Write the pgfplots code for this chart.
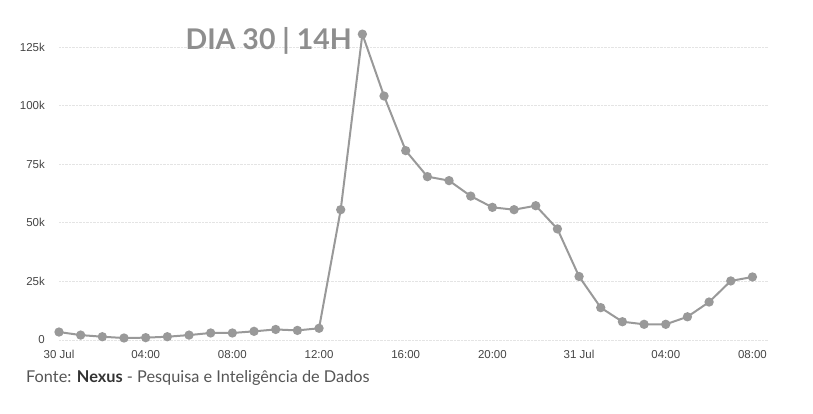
\documentclass[border=0pt]{standalone}
\usepackage{pgfplots}
\pgfplotsset{compat=1.18}
\usepackage{fontspec}
\setmainfont{Lato}
\newfontfamily\tickfont{Liberation Sans}
\definecolor{linegray}{HTML}{999999}
\definecolor{gridgray}{HTML}{E4E4E4}
\definecolor{ticktext}{HTML}{444444}
\definecolor{titlegray}{HTML}{8E8E8E}
\definecolor{footgray}{HTML}{555555}
\begin{document}
\begin{tikzpicture}
\useasboundingbox (0,0) rectangle (813pt,413pt);
\begin{axis}[
    at={(59pt,73pt)}, anchor=south west,
    scale only axis,
    width=708.6pt, height=316.4pt,
    xmin=0, xmax=32.7,
    ymin=0, ymax=135000,
    clip=false,
    axis line style={draw=none},
    tick style={draw=none},
    ymajorgrids,
    major grid style={densely dotted, line width=0.9pt, color=gridgray},
    ytick={0,25000,50000,75000,100000,125000},
    yticklabels={0,25k,50k,75k,100k,125k},
    xtick={0,4,8,12,16,20,24,28,32},
    xticklabels={30 Jul,04:00,08:00,12:00,16:00,20:00,31 Jul,04:00,08:00},
    yticklabel style={anchor=east, inner sep=0pt, xshift=-14pt, font=\tickfont\fontsize{11.5}{13}\selectfont, text=ticktext},
    xticklabel style={anchor=north, inner sep=0pt, yshift=-10pt, font=\tickfont\fontsize{11.5}{13}\selectfont, text=ticktext},
    scaled y ticks=false,
]
\addplot[color=linegray, line width=2pt, mark=*, mark size=3.6pt, mark options={fill=linegray, draw=linegray}]
coordinates {
(0,3400) (1,2100) (2,1400) (3,850) (4,1000) (5,1400) (6,2100) (7,3000)
(8,3000) (9,3700) (10,4500) (11,4100) (12,5000) (13,55600) (14,130500)
(15,104100) (16,80800) (17,69700) (18,68000) (19,61400) (20,56600)
(21,55600) (22,57300) (23,47400) (24,27100) (25,13800) (26,7800)
(27,6700) (28,6700) (29,9900) (30,16200) (31,25200) (32,26900)
};
\end{axis}
\node[anchor=base east, inner sep=0pt, text=titlegray, font=\fontsize{28.5}{32}\selectfont\bfseries] at (352pt,363pt) {DIA 30 | 14H};
\node[anchor=base west, inner sep=0pt, text=footgray, font=\fontsize{16.3}{20}\selectfont] at (26pt,31pt) {Fonte: \textbf{\textcolor{black!80}{Nexus}} - Pesquisa e Inteligência de Dados};
\end{tikzpicture}
\end{document}
